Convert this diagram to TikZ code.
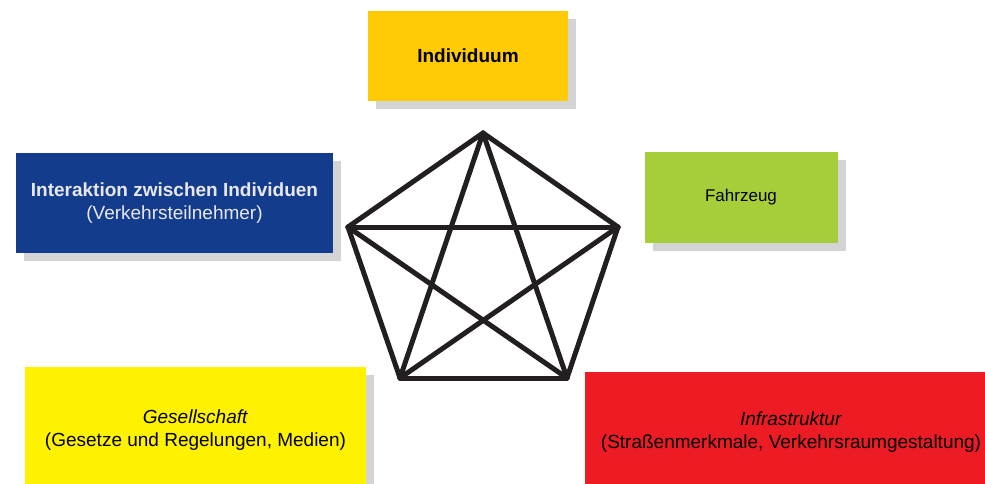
\documentclass[tikz,border=0pt]{standalone}
\usepackage{fontspec}
\setmainfont{Liberation Sans}
\usepackage{xcolor}
\definecolor{factoramber}{HTML}{FFCB05}
\definecolor{factorblue}{HTML}{143C8C}
\definecolor{factorgreen}{HTML}{A6CE39}
\definecolor{factoryellow}{HTML}{FFF200}
\definecolor{factorred}{HTML}{ED1C24}
\definecolor{shadowgray}{HTML}{D3D4D6}
\definecolor{edgedark}{HTML}{231F20}
\definecolor{lighttext}{HTML}{E8E8EC}
\usepackage{tikz}
\usetikzlibrary{positioning, shadows}
\tikzset{
  factor/.style={
    rectangle, inner sep=0pt, align=center,
    font=\fontsize{19}{22.5}\selectfont,
    drop shadow={shadow xshift=8pt, shadow yshift=-8pt, fill=shadowgray, opacity=1}
  },
  edgeline/.style={line width=5pt, edgedark, line cap=round}
}

\begin{document}
\begin{tikzpicture}[x=1pt, y=-1pt]

\useasboundingbox (0,0) rectangle (985,484);
\clip (0,0) rectangle (985,484);

% Factor boxes
\node[factor, fill=factoramber, minimum width=200pt, minimum height=90pt,
      font=\fontsize{19}{22.5}\selectfont\bfseries] (indiv) at (468,56) {Individuum};
\node[factor, fill=factorblue, text=lighttext, minimum width=317pt, minimum height=100pt]
      (inter) at (174.5,203) {\textbf{Interaktion zwischen Individuen}\\(Verkehrsteilnehmer)};
\node[factor, fill=factorgreen, minimum width=193pt, minimum height=91pt,
      font=\fontsize{17}{20}\selectfont] (vehicle) at (741,197.5) {Fahrzeug};
\node[factor, fill=factoryellow, minimum width=341pt, minimum height=126pt]
      (society) at (195.5,430) {\textit{Gesellschaft}\\(Gesetze und Regelungen, Medien)};
\node[factor, fill=factorred, minimum width=412pt, minimum height=120pt]
      (infra) at (791,432) {\textit{Infrastruktur}\\(Straßenmerkmale, Verkehrsraumgestaltung)};

% Pentagon corners
\coordinate (ptop) at (483,133);
\coordinate (pleft) at (348,227);
\coordinate (pright) at (618,227);
\coordinate (pbl) at (400,378);
\coordinate (pbr) at (567,378);

% Every corner joined to every other one
\foreach \a/\b in {ptop/pleft, ptop/pright, ptop/pbl, ptop/pbr,
                   pleft/pright, pleft/pbl, pleft/pbr,
                   pright/pbl, pright/pbr, pbl/pbr} {
  \draw[edgeline] (\a) -- (\b);
}

\end{tikzpicture}
\end{document}
